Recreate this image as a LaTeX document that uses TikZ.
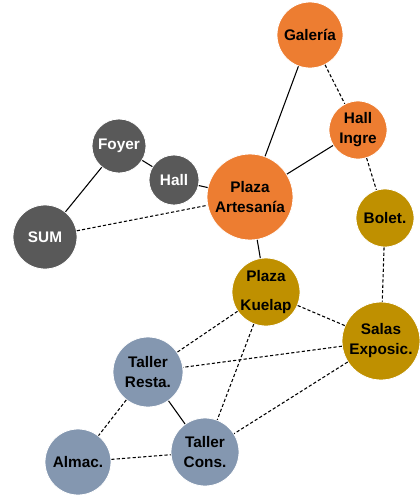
\documentclass[tikz,border=0pt]{standalone}
\usepackage{fontspec}
\setmainfont{Liberation Sans}
\usepackage{tikz}
\usetikzlibrary{positioning}

\definecolor{naranja}{HTML}{ED7D31}
\definecolor{gris}{HTML}{595959}
\definecolor{ocre}{HTML}{BF9000}
\definecolor{azulgris}{HTML}{8497B0}

\begin{document}
\begin{tikzpicture}[x=0.75pt, y=-0.75pt,
    sala/.style 2 args={
      circle,
      fill=#1,
      draw=white,
      line width=0.6pt,
      minimum size=#2*1.5pt,
      inner sep=0pt,
      align=center,
      font=\bfseries\fontsize{11.5}{15}\selectfont},
  solido/.style={black,line width=0.8pt},
  punteado/.style={black,line width=0.8pt,dash pattern=on 2.4pt off 1.6pt}]

\useasboundingbox (0,0) rectangle (420,497);

% zona de acceso
\node[sala={naranja}{33}] (gal) at (310,35) {Galer\'ia};
\node[sala={naranja}{29}] (hing) at (358,130) {Hall\\Ingre};
\node[sala={naranja}{43}] (part) at (250,197) {Plaza\\Artesan\'ia};

% zona social
\node[sala={gris}{27},text=white] (foyer) at (119,146) {Foyer};
\node[sala={gris}{25},text=white] (hall) at (174,180) {Hall};
\node[sala={gris}{32},text=white] (sum) at (45,237) {SUM};

% zona de exposicion
\node[sala={ocre}{29}] (bol) at (385,218) {Bolet.};
\node[sala={ocre}{34},font=\bfseries\fontsize{11.5}{22}\selectfont]
    (pkue) at (266,292) {Plaza\\Kuelap};
\node[sala={ocre}{39}] (salas) at (381,341) {Salas\\Exposic.};

% talleres
\node[sala={azulgris}{35}] (tres) at (148,372) {Taller\\Resta.};
\node[sala={azulgris}{33}] (alm) at (78,462) {Almac.};
\node[sala={azulgris}{34}] (tcons) at (205,452) {Taller\\Cons.};

% relaciones directas
\foreach \a/\b in {gal/part, hing/part, foyer/hall, foyer/sum,
                   hall/part, part/pkue, tres/tcons} {
    \draw[solido] (\a) -- (\b);
}

% relaciones indirectas
\foreach \a/\b in {gal/hing, hing/bol, sum/part, bol/salas,
                   pkue/salas, pkue/tres, pkue/tcons, salas/tres,
                   salas/tcons, tres/alm, alm/tcons} {
    \draw[punteado] (\a) -- (\b);
}

\end{tikzpicture}
\end{document}
